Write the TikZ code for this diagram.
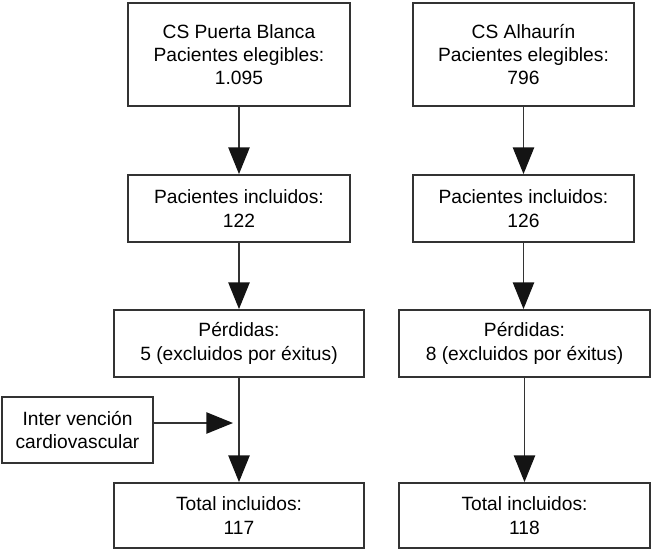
\documentclass[tikz,border=0pt]{standalone}
\usepackage{fontspec}
\setmainfont{Liberation Sans}
\usepackage{tikz}
\usetikzlibrary{arrows.meta}
\definecolor{mygray}{rgb}{0.2,0.2,0.2}
\definecolor{myhead}{rgb}{0.08,0.08,0.08}

\begin{document}
\begin{tikzpicture}[x=0.75pt,y=-0.75pt,
    caja/.style={draw=mygray,line width=1.4pt,rectangle,align=center,inner sep=0pt,
      font=\fontsize{14.4pt}{17.5pt}\selectfont},
    flecha/.style={draw=mygray,line width=1pt,
      -{Triangle[length=20pt,width=16pt,fill=myhead,color=myhead]}}]
  \useasboundingbox (0,0) rectangle (651,551);
  % columna izquierda
  \node[caja,minimum width=166.5pt,minimum height=77.25pt] (pb1) at (239,54.5)
    {CS Puerta Blanca\\Pacientes elegibles:\\1.095};
  \node[caja,minimum width=166.5pt,minimum height=50.25pt] (pb2) at (239,208.5)
    {Pacientes incluidos:\\122};
  \node[caja,minimum width=187.5pt,minimum height=50.25pt] (pb3) at (239,343.5)
    {Pérdidas:\\5 (excluidos por éxitus)};
  \node[caja,minimum width=187.5pt,minimum height=48.75pt] (pb4) at (239,515.5)
    {Total incluidos:\\117};
  \node[caja,minimum width=113.25pt,minimum height=49.5pt] (inter) at (77.5,430)
    {Inter vención\\cardiovascular};
  \coordinate (entra) at (233,423);
  % columna derecha
  \node[caja,minimum width=165.75pt,minimum height=77.25pt] (al1) at (523.5,54.5)
    {CS Alhaurín\\Pacientes elegibles:\\796};
  \node[caja,minimum width=165.75pt,minimum height=50.25pt] (al2) at (523.5,208.5)
    {Pacientes incluidos:\\126};
  \node[caja,minimum width=188.25pt,minimum height=50.25pt] (al3) at (524.5,343.5)
    {Pérdidas:\\8 (excluidos por éxitus)};
  \node[caja,minimum width=188.25pt,minimum height=48.75pt] (al4) at (524.5,515.5)
    {Total incluidos:\\118};
  % flechas
  \draw[flecha] (pb1.south) -- (pb2.north);
  \draw[flecha] (pb2.south) -- (pb3.north);
  \draw[flecha] (pb3.south) -- (pb4.north);
  \draw[flecha] (inter.east |- entra) -- (entra);
  \draw[flecha] (al1.south) -- (al2.north);
  \draw[flecha] (al2.south) -- (al2.south |- al3.north);
  \draw[flecha] (al3.south) -- (al4.north);
\end{tikzpicture}
\end{document}
